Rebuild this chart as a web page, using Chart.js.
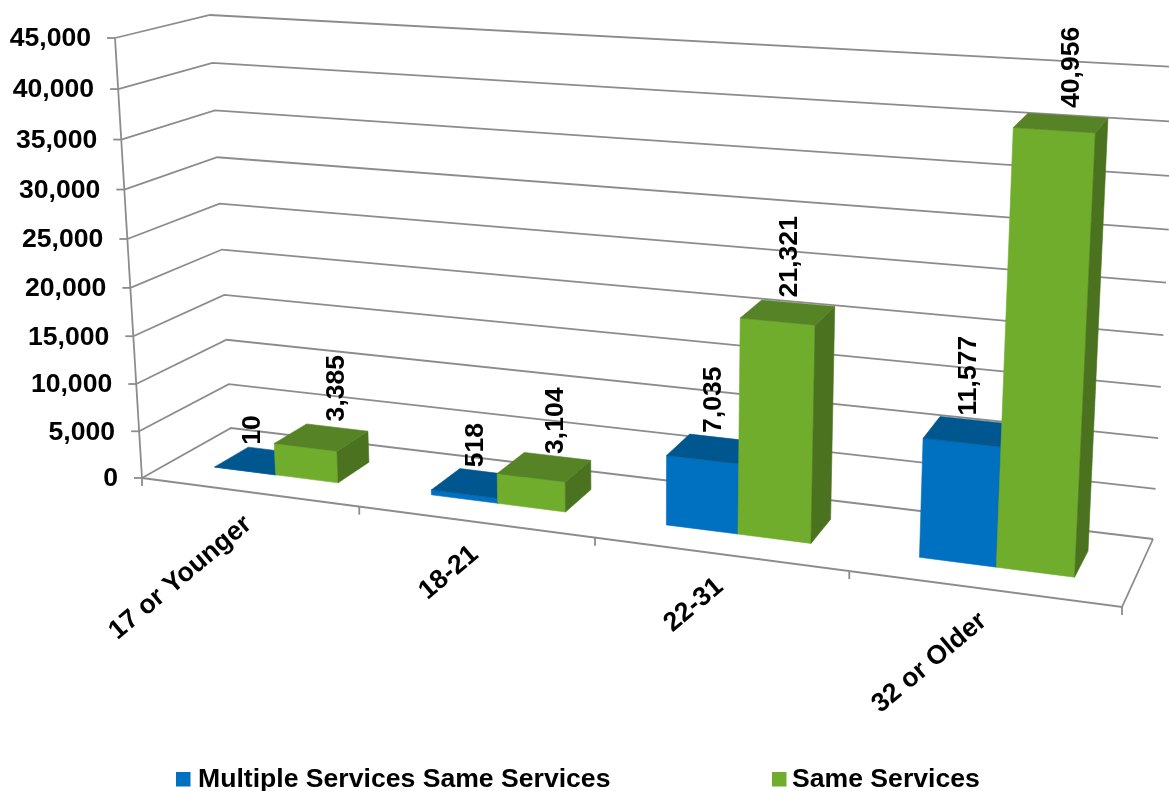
<!DOCTYPE html>
<html>
<head>
<meta charset="utf-8">
<style>
  html, body { margin: 0; padding: 0; background: #fff; }
  canvas { display: block; }
</style>
<script src="https://cdn.jsdelivr.net/npm/chart.js@4/dist/chart.umd.min.js"></script>
</head>
<body>
<canvas id="chart" width="1169" height="791"></canvas>
<script>
const categories = ['17 or Younger', '18-21', '22-31', '32 or Older'];
const multipleServices = [10, 518, 7035, 11577];
const sameServices = [3385, 3104, 21321, 40956];
const valueLabels = [
  ['10', '518', '7,035', '11,577'],
  ['3,385', '3,104', '21,321', '40,956']
];
const tickValues = [0, 5000, 10000, 15000, 20000, 25000, 30000, 35000, 40000, 45000];
const tickLabels = ['0', '5,000', '10,000', '15,000', '20,000', '25,000', '30,000', '35,000', '40,000', '45,000'];

const FONT = 'bold 26.6px "Liberation Sans", Arial, sans-serif';
const GRID = '#8c8c8c';

// corners of the 3D box as seen on screen (f = front, b = back, l/r, 0 = floor, 1 = top)
const box = {
  fl0: [142, 478], fl1: [115, 38], fr0: [1122, 607], fr1: [1149, 102],
  bl0: [231, 428], bl1: [210, 15], br0: [1153, 539], br1: [1177, 67]
};
const BAR_FRONT = 0.33, BAR_BACK = 0.72;

const faces = [
  { front: '#0070c0', top: '#00578f', side: '#004f85' },
  { front: '#70ad2d', top: '#568325', side: '#4a721f' }
];
// small hand nudges for the value labels, the original has them placed by eye
const labelNudge = [
  [[-9, 0], [-3, 0], [0, 0], [-1, 0]],
  [[15, 0], [11, 3], [2, 1], [11, 1]]
];

function lerp(a, b, t) { return [a[0] + (b[0] - a[0]) * t, a[1] + (b[1] - a[1]) * t]; }

// u along categories, v up the value axis, w into the depth, all 0..1
function project(u, v, w) {
  const uu = u - 0.151 * u * (1 - u);
  const vv = v - 0.05 * v * (1 - v);
  const front = lerp(lerp(box.fl0, box.fr0, uu), lerp(box.fl1, box.fr1, uu), vv);
  const back = lerp(lerp(box.bl0, box.br0, uu), lerp(box.bl1, box.br1, uu), vv);
  return lerp(front, back, w);
}

function line(ctx, pts) {
  ctx.beginPath();
  pts.forEach((p, i) => i ? ctx.lineTo(p[0], p[1]) : ctx.moveTo(p[0], p[1]));
  ctx.stroke();
}

function face(ctx, pts, color) {
  ctx.fillStyle = color;
  ctx.strokeStyle = color;
  ctx.lineWidth = 0.6;
  ctx.beginPath();
  pts.forEach((p, i) => i ? ctx.lineTo(p[0], p[1]) : ctx.moveTo(p[0], p[1]));
  ctx.closePath();
  ctx.fill();
  ctx.stroke();
}

const box3d = {
  id: 'box3d',
  beforeDatasetsDraw(chart) {
    const ctx = chart.ctx, y = chart.scales.y, a = chart.chartArea;
    const vOf = val => (a.bottom - y.getPixelForValue(val)) / a.height;
    ctx.save();
    ctx.strokeStyle = GRID;
    ctx.lineWidth = 1.8;
    // walls
    tickValues.forEach(val => {
      const v = vOf(val);
      line(ctx, [project(0, v, 0), project(0, v, 1), project(1, v, 1)]);
      const p = project(0, v, 0);
      line(ctx, [[p[0] - 8, p[1]], p]);
    });
    line(ctx, [box.fl0, box.fl1]);
    line(ctx, [box.fl0, box.fr0, box.br0]);
    // x axis ticks
    for (let i = 0; i <= categories.length; i++) {
      const p = project(i / categories.length, 0, 0);
      line(ctx, [p, [p[0], p[1] + 8]]);
    }
    // tick labels
    ctx.fillStyle = '#000';
    ctx.font = FONT;
    ctx.textAlign = 'right';
    ctx.textBaseline = 'middle';
    tickValues.forEach((val, i) => {
      const p = project(0, vOf(val), 0);
      ctx.fillText(tickLabels[i], p[0] - 24, p[1] + 1);
    });
    // category labels
    categories.forEach((c, i) => {
      const p = project((i + 0.5) / categories.length, 0, 0);
      ctx.save();
      ctx.translate(p[0], p[1] + 29);
      ctx.rotate(-40 * Math.PI / 180);
      ctx.fillText(c, 0, 0);
      ctx.restore();
    });
    ctx.restore();
  },
  // chart.js walks the datasets last to first, the green has to land on top of the blue
  // so skip its pass and draw them in afterDatasetsDraw
  beforeDatasetDraw() {
    return false;
  },
  afterDatasetsDraw(chart) {
    const ctx = chart.ctx, a = chart.chartArea;
    ctx.save();
    chart.data.datasets.forEach((ds, d) => {
      const col = faces[d];
      chart.getDatasetMeta(d).data.forEach(bar => {
        const u0 = (bar.x - bar.width / 2 - a.left) / a.width;
        const u1 = (bar.x + bar.width / 2 - a.left) / a.width;
        const v0 = (a.bottom - bar.base) / a.height;
        const v1 = (a.bottom - bar.y) / a.height;
        face(ctx, [project(u0, v0, BAR_FRONT), project(u1, v0, BAR_FRONT), project(u1, v1, BAR_FRONT), project(u0, v1, BAR_FRONT)], col.front);
        face(ctx, [project(u1, v0, BAR_FRONT), project(u1, v0, BAR_BACK), project(u1, v1, BAR_BACK), project(u1, v1, BAR_FRONT)], col.side);
        face(ctx, [project(u0, v1, BAR_FRONT), project(u1, v1, BAR_FRONT), project(u1, v1, BAR_BACK), project(u0, v1, BAR_BACK)], col.top);
      });
    });
    // value labels
    ctx.fillStyle = '#000';
    ctx.font = FONT;
    ctx.textBaseline = 'middle';
    ctx.textAlign = 'left';
    chart.data.datasets.forEach((ds, d) => {
      chart.getDatasetMeta(d).data.forEach((bar, i) => {
        const p = project((bar.x - a.left) / a.width, (a.bottom - bar.y) / a.height, (BAR_FRONT + BAR_BACK) / 2);
        ctx.save();
        ctx.translate(p[0] + labelNudge[d][i][0], p[1] - 16 + labelNudge[d][i][1]);
        ctx.rotate(-Math.PI / 2);
        ctx.fillText(valueLabels[d][i], 0, 0);
        ctx.restore();
      });
    });
    // legend, the gap between the two entries is too wide for the built in one
    [[176, 198], [772, 792]].forEach((x, d) => {
      const ds = chart.data.datasets[d];
      ctx.fillStyle = ds.backgroundColor;
      ctx.fillRect(x[0], 772, 14.5, 14.5);
      ctx.fillStyle = '#000';
      ctx.fillText(ds.label, x[1], 780);
    });
    ctx.restore();
  }
};

new Chart(document.getElementById('chart'), {
  type: 'bar',
  data: {
    labels: categories,
    datasets: [
      { label: 'Multiple Services Same Services', data: multipleServices, backgroundColor: '#0070c0' },
      { label: 'Same Services', data: sameServices, backgroundColor: '#70ad2d' }
    ]
  },
  options: {
    responsive: false,
    animation: false,
    categoryPercentage: 0.58,
    barPercentage: 1,
    plugins: { legend: { display: false }, tooltip: { enabled: false } },
    scales: {
      x: { display: false, offset: true },
      y: { display: false, min: 0, max: 45000, ticks: { stepSize: 5000 } }
    }
  },
  plugins: [box3d]
});
</script>
</body>
</html>
